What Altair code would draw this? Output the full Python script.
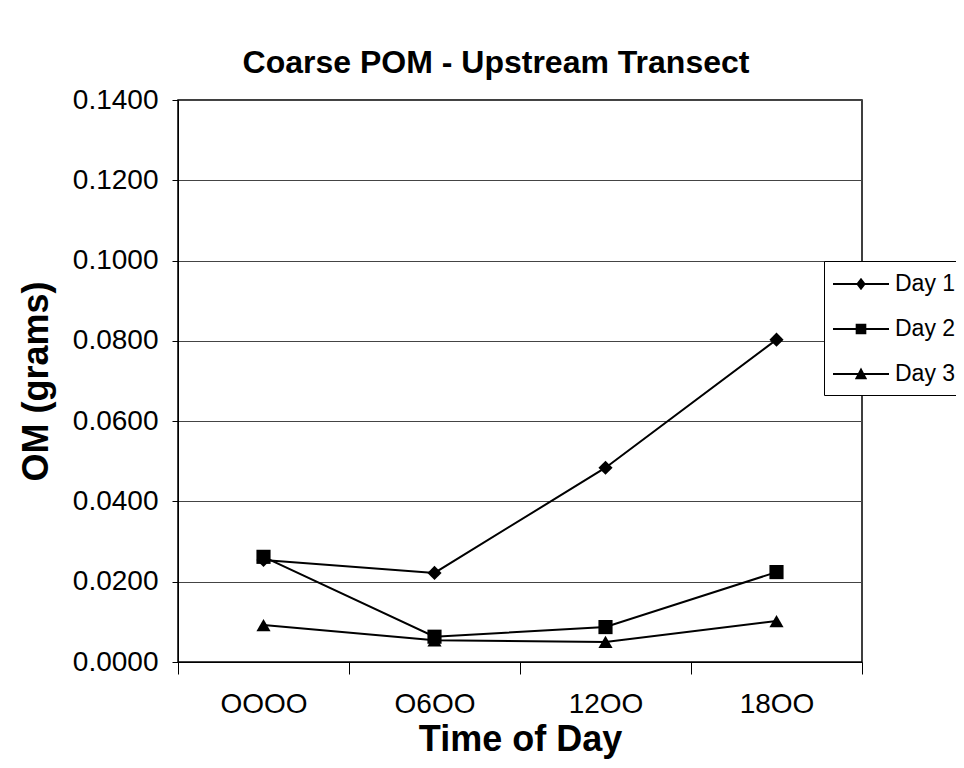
import altair as alt
import pandas as pd

times = ["OOOO", "O6OO", "12OO", "18OO"]
series = ["Day 1", "Day 2", "Day 3"]
day1 = [0.0254, 0.0222, 0.0484, 0.0803]
day2 = [0.0262, 0.0063, 0.0087, 0.0224]
day3 = [0.0092, 0.0054, 0.0050, 0.0102]
y_ticks = [0.0, 0.02, 0.04, 0.06, 0.08, 0.10, 0.12, 0.14]

rows = []
for s, vals in zip(series, [day1, day2, day3]):
    for i, (t, v) in enumerate(zip(times, vals)):
        rows.append({"Time": t, "Idx": i, "Series": s, "OM": v})
df = pd.DataFrame(rows)

FONT = "Liberation Sans"

x = alt.X(
    "Time:N",
    sort=times,
    scale=alt.Scale(type="band", paddingInner=0, paddingOuter=0),
    axis=alt.Axis(
        title="Time of Day",
        labelAngle=0,
        tickBand="extent",
        grid=False,
        tickSize=12,
        tickColor="black",
        domainColor="black",
        labelFontSize=28,
        labelFont=FONT,
        labelColor="black",
        labelPadding=16,
        titleFont=FONT,
        titleFontSize=36,
        titleFontWeight="bold",
        titleColor="black",
        titlePadding=4,
    ),
)
y = alt.Y(
    "OM:Q",
    scale=alt.Scale(domain=[0, 0.14], nice=False, zero=True),
    axis=alt.Axis(
        title="OM (grams)",
        values=y_ticks,
        format=".4f",
        grid=True,
        gridColor="#444444",
        gridWidth=1,
        tickSize=6,
        tickColor="black",
        domainColor="black",
        labelFontSize=28,
        labelFont=FONT,
        labelColor="black",
        labelPadding=14,
        titleFont=FONT,
        titleFontSize=36,
        titleFontWeight="bold",
        titleColor="black",
        titlePadding=17,
    ),
)

base = alt.Chart(df)

lines = base.mark_line(color="black", strokeWidth=2).encode(
    x=x, y=y, detail="Series:N", order=alt.Order("Idx:Q", sort="ascending")
)

points = base.mark_point(filled=True, color="black", opacity=1, size=200).encode(
    x=x,
    y=y,
    shape=alt.Shape(
        "Series:N",
        scale=alt.Scale(domain=series, range=["diamond", "square", "triangle-up"]),
        legend=None,
    ),
)

# legend glyphs: a filled thin bar (the line) plus the marker, all filled
legend_shapes = [
    "M-1,-0.07H3V0.07H-1ZM1,-0.45L1.34,0L1,0.45L0.66,0Z",
    "M-1,-0.07H3V0.07H-1ZM0.62,-0.38H1.38V0.38H0.62Z",
    "M-1,-0.07H3V0.07H-1ZM1,-0.47L1.44,0.38H0.56Z",
]

legend_layer = base.mark_point(
    filled=True, color="black", opacity=0, size=10
).encode(
    x=x,
    y=y,
    shape=alt.Shape(
        "Series:N",
        scale=alt.Scale(domain=series, range=legend_shapes),
        legend=alt.Legend(
            title=None,
            orient="none",
            legendX=646,
            legendY=161,
            direction="vertical",
            symbolSize=784,
            symbolFillColor="black",
            symbolStrokeColor="black",
            symbolStrokeWidth=0,
            symbolOpacity=1,
            labelFont=FONT,
            labelFontSize=23,
            labelColor="black",
            labelOffset=34,
            rowPadding=19,
            padding=9,
            strokeColor="black",
            fillColor="white",
        ),
    ),
)

chart = (
    alt.layer(lines, points, legend_layer)
    .resolve_scale(shape="independent")
    .properties(
        width=684,
        height=562,
        title=alt.TitleParams(
            "Coarse POM - Upstream Transect",
            font=FONT,
            fontSize=32,
            fontWeight="bold",
            color="black",
            anchor="middle",
            dx=-24,
            offset=6,
        ),
        autosize=alt.AutoSizeParams(type="none"),
        padding={"left": 170, "top": 92, "right": 94, "bottom": 98},
        background="white",
    )
    .configure_view(stroke="black", strokeWidth=1.5)
)

chart.save("out.html", embed_options={"renderer": "svg", "actions": False})
